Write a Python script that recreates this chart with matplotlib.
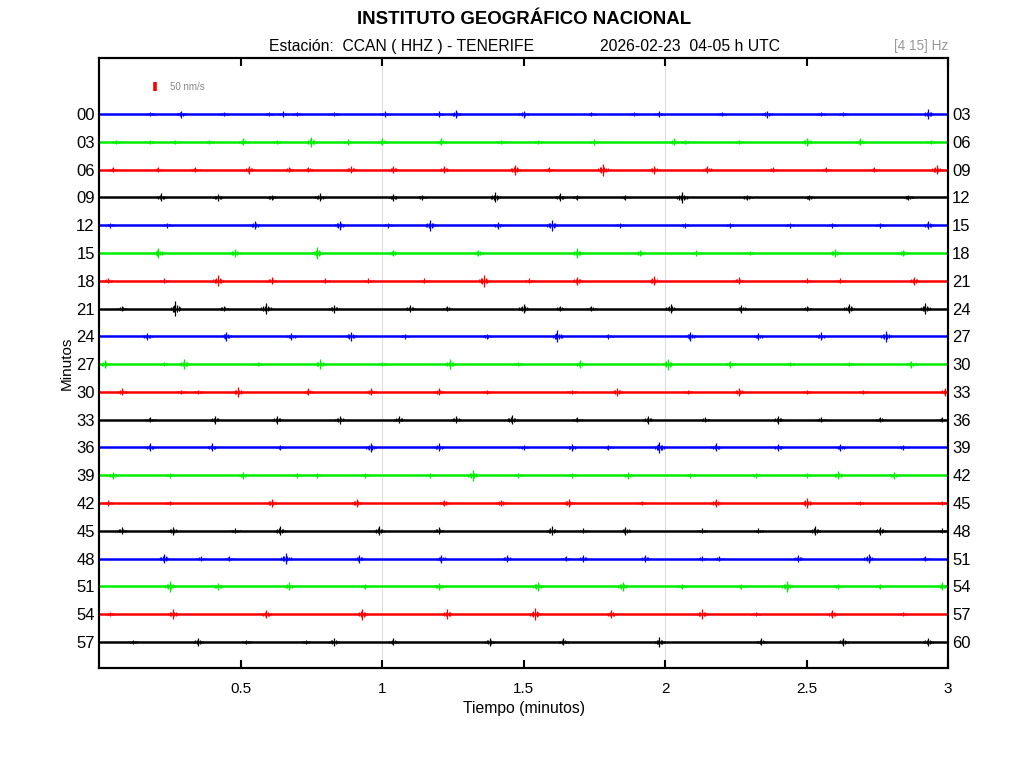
"""
helicorder plot, CCAN HHZ, one hour in rows of 3 minutes
"""
import matplotlib
matplotlib.use("Agg")
import matplotlib.pyplot as plt

plt.rcParams['font.family'] = ['Liberation Sans', 'DejaVu Sans']

# row labels (minutes at start / end of each row)
left_labels = ["00", "03", "06", "09", "12", "15", "18", "21", "24", "27",
               "30", "33", "36", "39", "42", "45", "48", "51", "54", "57"]
right_labels = ["03", "06", "09", "12", "15", "18", "21", "24", "27", "30",
                "33", "36", "39", "42", "45", "48", "51", "54", "57", "60"]
row_colors = ["#0000ff", "#00ee00", "#ff0000", "#000000"]

# bursts: time (minutes) and half amplitude (nm/s)
burst_times = [
    [0.18, 0.29, 0.44, 0.60, 0.65, 0.70, 0.83, 1.01, 1.20, 1.26, 1.50, 1.74, 1.89, 1.98, 2.20, 2.36, 2.55, 2.63, 2.93],
    [0.06, 0.18, 0.27, 0.39, 0.51, 0.63, 0.75, 0.88, 1.00, 1.21, 1.42, 1.55, 1.75, 2.03, 2.07, 2.26, 2.50, 2.69, 2.94],
    [0.05, 0.21, 0.34, 0.53, 0.67, 0.74, 0.89, 1.04, 1.22, 1.47, 1.59, 1.78, 1.96, 2.15, 2.38, 2.57, 2.74, 2.96],
    [0.22, 0.42, 0.61, 0.78, 1.04, 1.14, 1.40, 1.63, 1.69, 1.86, 2.06, 2.29, 2.51, 2.86],
    [0.04, 0.24, 0.55, 0.85, 1.02, 1.17, 1.41, 1.60, 1.84, 2.07, 2.23, 2.44, 2.59, 2.76, 2.93],
    [0.21, 0.48, 0.77, 1.04, 1.34, 1.69, 1.91, 2.11, 2.30, 2.60, 2.84],
    [0.03, 0.23, 0.42, 0.61, 0.80, 0.95, 1.15, 1.36, 1.52, 1.69, 1.96, 2.26, 2.50, 2.62, 2.88],
    [0.08, 0.27, 0.44, 0.59, 0.83, 1.10, 1.23, 1.50, 1.63, 1.74, 2.02, 2.27, 2.50, 2.65, 2.92],
    [0.17, 0.45, 0.68, 0.89, 1.08, 1.37, 1.62, 1.80, 2.09, 2.33, 2.55, 2.78],
    [0.02, 0.23, 0.30, 0.56, 0.78, 1.00, 1.24, 1.48, 1.70, 2.01, 2.23, 2.44, 2.65, 2.87],
    [0.08, 0.29, 0.35, 0.49, 0.74, 0.96, 1.20, 1.37, 1.67, 1.83, 2.08, 2.26, 2.50, 2.70, 2.99],
    [0.18, 0.41, 0.63, 0.85, 1.06, 1.26, 1.46, 1.69, 1.94, 2.14, 2.40, 2.55, 2.76, 2.98],
    [0.18, 0.40, 0.64, 0.96, 1.20, 1.50, 1.67, 1.80, 1.98, 2.18, 2.40, 2.62, 2.84],
    [0.05, 0.25, 0.51, 0.70, 0.77, 0.94, 1.17, 1.32, 1.48, 1.67, 1.87, 2.09, 2.32, 2.50, 2.61, 2.81],
    [0.03, 0.25, 0.61, 0.91, 1.22, 1.42, 1.66, 1.92, 2.18, 2.50, 2.69, 2.98],
    [0.08, 0.26, 0.48, 0.64, 0.99, 1.20, 1.60, 1.71, 1.86, 2.13, 2.33, 2.53, 2.76, 2.98],
    [0.23, 0.36, 0.46, 0.66, 0.92, 1.21, 1.44, 1.65, 1.71, 1.93, 2.13, 2.19, 2.47, 2.72, 2.92],
    [0.25, 0.42, 0.67, 0.94, 1.20, 1.55, 1.85, 2.06, 2.27, 2.43, 2.61, 2.76, 2.98],
    [0.04, 0.26, 0.59, 0.93, 1.23, 1.54, 1.81, 2.13, 2.32, 2.59, 2.84],
    [0.12, 0.35, 0.52, 0.73, 0.83, 1.04, 1.38, 1.64, 1.98, 2.34, 2.63, 2.93],
]
burst_amps = [
    [13, 19, 13, 13, 15, 13, 13, 15, 15, 22, 19, 13, 13, 15, 13, 19, 13, 13, 26],
    [13, 13, 13, 13, 19, 13, 28, 15, 19, 19, 13, 13, 15, 19, 13, 13, 22, 19, 13],
    [13, 13, 13, 22, 15, 15, 19, 19, 19, 28, 13, 33, 22, 19, 13, 13, 13, 26],
    [22, 19, 15, 22, 19, 13, 28, 22, 13, 13, 30, 15, 15, 15],
    [13, 13, 22, 26, 13, 30, 19, 30, 13, 15, 13, 13, 13, 13, 22],
    [30, 22, 33, 19, 19, 26, 19, 15, 13, 22, 19],
    [15, 13, 30, 19, 13, 13, 13, 33, 13, 22, 26, 19, 13, 13, 22],
    [13, 41, 15, 30, 22, 19, 13, 26, 15, 13, 26, 22, 13, 26, 30],
    [19, 26, 19, 26, 13, 15, 33, 13, 26, 19, 22, 30],
    [22, 13, 26, 13, 26, 13, 26, 13, 22, 30, 19, 13, 13, 19],
    [19, 13, 13, 26, 19, 19, 19, 13, 13, 22, 13, 22, 13, 13, 22],
    [13, 22, 22, 22, 19, 19, 26, 13, 22, 13, 22, 13, 15, 13],
    [22, 22, 13, 26, 22, 13, 19, 13, 33, 22, 19, 19, 13],
    [19, 13, 19, 13, 13, 13, 13, 30, 13, 13, 19, 13, 15, 13, 22, 19],
    [15, 13, 22, 22, 19, 19, 22, 13, 22, 30, 13, 13],
    [19, 22, 13, 26, 26, 19, 26, 13, 22, 13, 13, 26, 22, 13],
    [26, 13, 13, 30, 22, 22, 19, 13, 19, 19, 13, 13, 19, 26, 13],
    [30, 19, 22, 13, 19, 26, 26, 13, 13, 30, 13, 13, 22],
    [13, 26, 22, 30, 26, 33, 22, 26, 13, 22, 13],
    [13, 22, 13, 13, 22, 19, 22, 19, 26, 19, 22, 22],
]

scale_nm = 50.0           # size of the scale bar
row_per_nm = 0.324 / 50.0 # 50 nm/s is about a third of the row spacing
t_start, t_end = 0.0, 3.0
grid_lines = [1, 2]

# look of one burst: one sharp peak with smaller wiggles round it
wiggle_dt = [-0.016, -0.010, -0.005, 0.0, 0.006, 0.011, 0.017]
wiggle_rel = [0.25, 0.4, 0.5, 1.0, 0.45, 0.35, 0.2]

fig = plt.figure(figsize=(10.24, 7.68), dpi=100)
ax = fig.add_axes([0.0967, 0.1302, 0.8291, 0.7943])

for t in grid_lines:
    ax.axvline(t, color="#dddddd", lw=0.8, zorder=0)

for i in range(len(left_labels)):
    y0 = -i
    c = row_colors[i % 4]
    ax.plot([t_start, t_end], [y0, y0], color=c, lw=1.8, solid_capstyle="butt", zorder=2)
    xs, lo, hi = [], [], []
    for t, a in zip(burst_times[i], burst_amps[i]):
        for dt, r in zip(wiggle_dt, wiggle_rel):
            h = a * r * row_per_nm
            xs.append(min(max(t + dt, t_start), t_end))
            lo.append(y0 - h)
            hi.append(y0 + h)
    ax.vlines(xs, lo, hi, color=c, lw=0.9, zorder=3)

# scale bar
sb_t, sb_y = 0.198, 0.99
ax.plot([sb_t, sb_t], [sb_y - scale_nm * row_per_nm / 2, sb_y + scale_nm * row_per_nm / 2],
        color="red", lw=2.6, solid_capstyle="butt")
ax.text(0.25, sb_y, "50 nm/s", color="#888888", fontsize=7, va="center", ha="left")

ax.set_xlim(t_start, t_end)
ax.set_ylim(-19.94, 2.02)
ax.set_xticks([0.5, 1, 1.5, 2, 2.5, 3])
ax.set_xticklabels(["0.5", "1", "1.5", "2", "2.5", "3"])
ax.set_yticks([-i for i in range(len(left_labels))])
ax.set_yticklabels(left_labels)
ax.tick_params(axis="x", direction="in", length=6, width=1.5, top=True, labelsize=11, pad=10)
ax.tick_params(axis="y", length=0, labelsize=12, pad=3)
for s in ax.spines.values():
    s.set_linewidth(1.5)

ax2 = ax.twinx()
ax2.set_ylim(ax.get_ylim())
ax2.set_yticks([-i for i in range(len(right_labels))])
ax2.set_yticklabels(right_labels)
ax2.tick_params(axis="y", length=0, labelsize=12, pad=3)
for s in ax2.spines.values():
    s.set_linewidth(1.5)

ax.set_xlabel("Tiempo (minutos)", fontsize=11.3, labelpad=4)
ax.set_ylabel("Minutos", fontsize=11, labelpad=2)

fig.text(0.5117, 0.974, "INSTITUTO GEOGRÁFICO NACIONAL", fontsize=13.4, fontweight="bold",
         ha="center", va="center")
fig.text(0.3926, 0.940, "Estación:  CCAN ( HHZ ) - TENERIFE", fontsize=11.3, ha="center", va="center")
fig.text(0.6738, 0.940, "2026-02-23  04-05 h UTC", fontsize=11.3, ha="center", va="center")
fig.text(0.9258, 0.940, "[4 15] Hz", fontsize=9.8, color="#999999", ha="right", va="center")

plt.savefig("out.png", dpi=100)
